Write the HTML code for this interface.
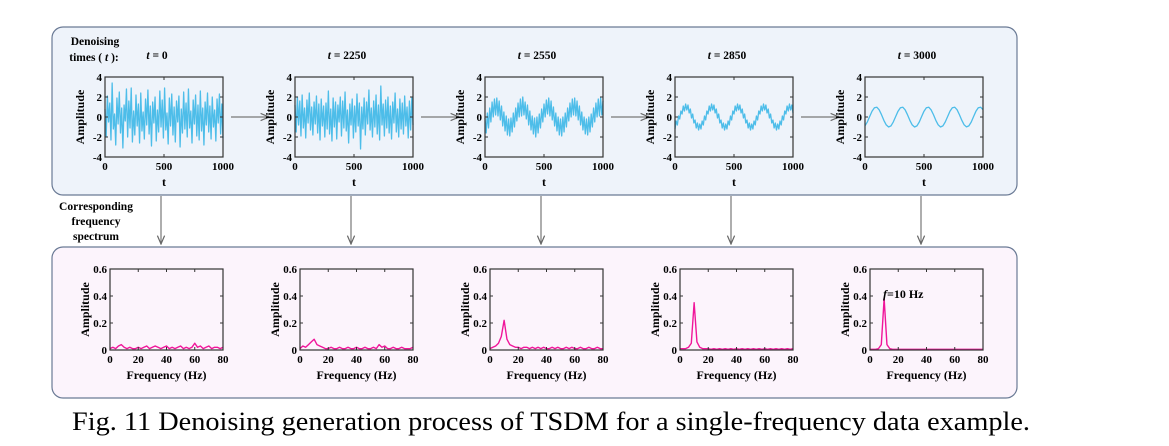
<!DOCTYPE html>
<html><head><meta charset="utf-8"><style>
html,body{margin:0;padding:0;background:#fff;}
body{width:1169px;height:441px;overflow:hidden;position:relative;font-family:"Liberation Serif",serif;}
svg text{font-family:"Liberation Serif",serif;font-weight:bold;}
</style></head><body>
<svg id="fig" width="1169" height="441" viewBox="0 0 1169 441" xmlns="http://www.w3.org/2000/svg">
<defs><marker id="ah" markerWidth="8" markerHeight="8" refX="7" refY="4" orient="auto"><path d="M0,1 L7,4 L0,7" fill="none" stroke="#666" stroke-width="1"/></marker></defs>
<rect x="52" y="27" width="965" height="168" rx="11" fill="#eef3fa" stroke="#6a7a95" stroke-width="1.2"/>
<rect x="52" y="247" width="965" height="151" rx="11" fill="#fcf4fc" stroke="#6a7a95" stroke-width="1.2"/>
<text x="95" y="45" font-size="11.5" text-anchor="middle">Denoising</text>
<text x="94" y="61" font-size="11.5" text-anchor="middle">times ( <tspan font-style="italic">t</tspan> ):</text>
<text x="96" y="210" font-size="11.5" text-anchor="middle">Corresponding</text>
<text x="96" y="225" font-size="11.5" text-anchor="middle">frequency</text>
<text x="96" y="240" font-size="11.5" text-anchor="middle">spectrum</text>
<g id="plots"></g>
<text x="72" y="430" font-size="26" textLength="958" lengthAdjust="spacingAndGlyphs" style="font-weight:normal">Fig. 11 Denoising generation process of TSDM for a single-frequency data example.</text>
</svg>
<script>
const titles = ["t = 0","t = 2250","t = 2550","t = 2850","t = 3000"];
const timeTicks = [0,500,1000];
const ampTicks = [-4,-2,0,2,4];
const freqTicks = [0,20,40,60,80];
const specTicks = [0,0.2,0.4,0.6];
const sig0 = [0.8,-1.9,2.1,-0.5,1.4,-2.3,3.4,-1.2,0.3,-2.8,1.9,-0.7,2.5,-1.6,0.9,-3.1,1.2,-0.4,2.8,-2.0,1.6,-1.1,2.9,-2.5,0.6,-1.8,2.2,-0.9,1.3,-2.6,2.4,-1.4,0.5,-2.2,1.8,-0.8,2.7,-1.7,1.1,-2.9,1.5,-0.6,2.0,-2.4,0.7,-1.5,2.6,-1.0,1.7,-2.1,2.9,-1.3,0.4,-2.7,1.9,-0.9,2.3,-1.8,1.0,-2.5,1.6,-0.5,2.1,-3.0,0.8,-1.6,2.5,-1.2,1.4,-2.0,2.8,-1.1,0.6,-2.6,1.7,-0.7,2.2,-1.9,1.2,-2.3,2.6,-1.4,0.9,-2.8,1.5,-0.8,2.4,-1.5,1.1,-2.2,2.0,-1.0,0.7,-2.4,1.8,-0.6,2.3,-1.7,1.3,-2.1];
const sig1 = [1.2,-1.5,2.0,-0.8,1.6,-1.9,2.2,-1.1,0.9,-2.1,1.7,-0.6,2.4,-1.3,1.0,-1.8,1.5,-0.7,2.1,-1.6,1.3,-2.3,1.8,-0.9,1.1,-2.0,1.4,-1.2,2.6,-1.7,0.8,-2.4,1.9,-1.0,1.5,-2.2,1.2,-0.5,2.0,-1.9,1.6,-1.1,2.5,-1.4,0.7,-2.6,1.3,-0.8,1.8,-2.1,1.1,-1.5,2.3,-0.9,1.4,-3.2,1.0,-1.2,1.9,-1.8,1.5,-0.7,2.7,-1.3,0.9,-2.0,1.6,-1.0,2.2,-1.7,1.2,-2.3,3.1,-0.8,1.3,-1.9,1.7,-1.1,2.0,-1.6,1.1,-2.2,1.5,-0.6,2.4,-1.5,0.8,-2.0,1.8,-1.2,1.4,-1.7,2.1,-0.9,1.0,-2.1,1.6,-1.3,1.9,-0.8];
const sig2 = [-0.1,-1.6,0.4,-1.1,0.9,-0.5,1.5,0.0,1.8,0.2,1.9,0.1,1.6,-0.3,1.1,-0.9,0.5,-1.4,0.1,-1.8,-0.2,-1.9,-0.1,-1.5,0.4,-1.0,0.9,-0.4,1.4,0.0,1.8,0.1,2.0,0.2,1.5,-0.2,1.2,-0.8,0.6,-1.3,0.1,-1.7,-0.1,-2.0,0.0,-1.6,0.3,-1.1,0.8,-0.5,1.3,0.0,1.7,0.3,1.9,0.1,1.6,-0.3,1.0,-0.9,0.4,-1.4,0.0,-1.8,-0.2,-1.9,0.0,-1.5,0.4,-1.0,0.9,-0.4,1.4,0.0,1.8,0.2,1.9,0.1,1.6,-0.3,1.1,-0.8,0.5,-1.3,0.0,-1.7,-0.2,-1.8,0.0,-1.5,0.3,-1.0,0.9,-0.5,1.4,0.0,1.8,0.1,1.9,0.2,1.6];
const sig3 = [-1.2,-0.4,-0.8,0.1,-0.2,0.6,0.3,1.1,0.6,1.3,0.7,1.2,0.4,0.8,-0.1,0.3,-0.6,-0.3,-1.1,-0.6,-1.3,-0.7,-1.2,-0.4,-0.8,0.1,-0.3,0.6,0.3,1.1,0.6,1.3,0.7,1.2,0.4,0.8,-0.1,0.3,-0.6,-0.3,-1.1,-0.6,-1.3,-0.7,-1.2,-0.4,-0.8,0.1,-0.3,0.6,0.3,1.1,0.6,1.3,0.7,1.2,0.4,0.8,-0.1,0.3,-0.6,-0.3,-1.1,-0.6,-1.3,-0.7,-1.2,-0.4,-0.8,0.1,-0.3,0.6,0.3,1.1,0.6,1.3,0.7,1.2,0.4,0.8,-0.1,0.3,-0.6,-0.3,-1.1,-0.6,-1.3,-0.7,-1.2,-0.4,-0.8,0.1,-0.3,0.6,0.3,1.1,0.6,1.3,0.7,1.2,0.4];
const sig4 = [-0.88,-0.49,0.06,0.59,0.93,0.98,0.72,0.23,-0.34,-0.79,-1.00,-0.89,-0.49,0.05,0.58,0.93,0.98,0.72,0.23,-0.33,-0.79,-1.00,-0.89,-0.50,0.05,0.58,0.93,0.98,0.72,0.24,-0.33,-0.78,-1.00,-0.89,-0.50,0.04,0.58,0.93,0.98,0.73,0.24,-0.32,-0.78,-0.99,-0.89,-0.51,0.04,0.57,0.92,0.98,0.73];
const spec0 = [0.01,0.02,0.01,0.03,0.04,0.02,0.01,0.02,0.01,0.01,0.02,0.01,0.02,0.03,0.01,0.02,0.03,0.02,0.01,0.02,0.03,0.01,0.02,0.01,0.02,0.03,0.01,0.02,0.01,0.02,0.05,0.02,0.03,0.01,0.02,0.03,0.01,0.02,0.02,0.01,0.02];
const spec1 = [0.01,0.03,0.02,0.04,0.06,0.08,0.04,0.03,0.02,0.01,0.01,0.02,0.01,0.01,0.02,0.01,0.01,0.02,0.01,0.01,0.02,0.01,0.01,0.02,0.01,0.01,0.02,0.01,0.04,0.02,0.03,0.01,0.01,0.02,0.01,0.01,0.02,0.01,0.01,0.01,0.02];
const spec2 = [0.01,0.02,0.03,0.05,0.10,0.22,0.08,0.04,0.03,0.02,0.02,0.01,0.02,0.02,0.01,0.02,0.01,0.02,0.01,0.02,0.01,0.01,0.02,0.01,0.02,0.01,0.01,0.02,0.01,0.02,0.01,0.01,0.02,0.01,0.01,0.02,0.01,0.01,0.02,0.01,0.01];
const spec3 = [0.01,0.01,0.01,0.02,0.05,0.35,0.06,0.02,0.01,0.01,0.01,0.005,0.01,0.005,0.01,0.005,0.01,0.005,0.01,0.005,0.01,0.005,0.01,0.005,0.01,0.005,0.01,0.005,0.01,0.005,0.01,0.005,0.01,0.005,0.01,0.005,0.01,0.005,0.01,0.005,0.01];
const spec4 = [0.005,0.005,0.005,0.01,0.04,0.38,0.04,0.01,0.005,0.005,0.005,0.005,0.005,0.005,0.005,0.005,0.005,0.005,0.005,0.005,0.005,0.005,0.005,0.005,0.005,0.005,0.005,0.005,0.005,0.005,0.005,0.005,0.005,0.005,0.005,0.005,0.005,0.005,0.005,0.005,0.005];
const signals=[sig0,sig1,sig2,sig3,sig4];
const spectra=[spec0,spec1,spec2,spec3,spec4];

const NS="http://www.w3.org/2000/svg";
const root=document.getElementById('plots');
function mk(tag,attrs,parent,txt){const e=document.createElementNS(NS,tag);for(const k in attrs)e.setAttribute(k,attrs[k]);if(txt!==undefined)e.textContent=txt;(parent||root).appendChild(e);return e;}

function axes(g,x0,y0,w,h,xt,xmin,xmax,yt,ymin,ymax,yfmt,xlabel,data,color,sw){
  const sx=v=>x0+(v-xmin)/(xmax-xmin)*w, sy=v=>y0+h-(v-ymin)/(ymax-ymin)*h;
  const n=data.length;
  const pts=data.map((v,i)=>sx(xmin+i*(xmax-xmin)/(n-1)).toFixed(2)+','+sy(v).toFixed(2)).join(' ');
  const line=mk('polyline',{points:pts,fill:'none',stroke:color,'stroke-width':sw,'stroke-linejoin':'round'},g);
  
  
  const fr=mk('rect',{x:x0,y:y0,width:w,height:h,fill:'none',stroke:'#333','stroke-width':1.2},g);
  
  
  xt.forEach(v=>{const x=sx(v);
    mk('line',{x1:x,x2:x,y1:y0+h,y2:y0+h-3,stroke:'#333'},g);mk('line',{x1:x,x2:x,y1:y0,y2:y0+3,stroke:'#333'},g);
    const t=mk('text',{x:x,y:y0+h+13,'font-size':11,'text-anchor':'middle'},g,String(v));
    
    });
  yt.forEach(v=>{const y=sy(v);
    mk('line',{x1:x0,x2:x0+3,y1:y,y2:y,stroke:'#333'},g);mk('line',{x1:x0+w,x2:x0+w-3,y1:y,y2:y,stroke:'#333'},g);
    const t=mk('text',{x:x0-3,y:y+4,'font-size':11,'text-anchor':'end'},g,yfmt(v));
    
    });
  const yl=mk('text',{x:0,y:0,'font-size':12,'text-anchor':'middle',transform:`translate(${x0-21},${y0+h/2}) rotate(-90)`},g,'Amplitude');
  
  
  const xl=mk('text',{x:x0+w/2,y:y0+h+29,'font-size':12,'text-anchor':'middle'},g,xlabel);
  
  
}

for(let i=0;i<5;i++){
  const tx=105+190*i, fx=110+190*i;
  const g=mk('g',{});
  
  
  const parts=titles[i].split(' = ');
  const tt=mk('text',{x:tx+52,y:59,'font-size':11.5,'text-anchor':'middle'},g);
  
  
  mk('tspan',{'font-style':'italic'},tt,parts[0]);mk('tspan',{},tt,' = '+parts[1]);
  axes(g,tx,77,118,80,timeTicks,0,1000,ampTicks,-4,4,v=>String(v),'t',signals[i],'#4dbde9',1.3);
  const g2=mk('g',{});
  
  
  axes(g2,fx,269,113,81,freqTicks,0,80,specTicks,0,0.6,v=>v===0?'0':v.toFixed(1),'Frequency (Hz)',spectra[i],'#f0169a',1.4);
  const ar=mk('line',{x1:fx+51,x2:fx+51,y1:196,y2:244,stroke:'#777','stroke-width':1.2,'marker-end':'url(#ah)'});
  
  
  if(i<4){const h=mk('line',{x1:tx+126,x2:tx+164,y1:117,y2:117,stroke:'#777','stroke-width':1.2,'marker-end':'url(#ah)'});
    
    }
}
const ann=mk('text',{x:883,y:298,'font-size':12});


mk('tspan',{'font-style':'italic'},ann,'f');mk('tspan',{},ann,'=10 Hz');
</script>
</body></html>
